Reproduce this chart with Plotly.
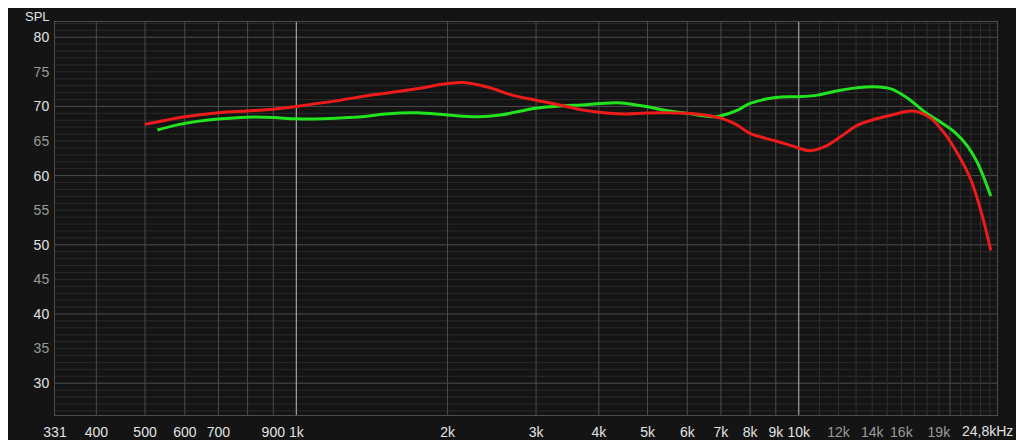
import math
import plotly.graph_objects as go

# ---- data ----
red_freq = [500, 550, 600, 700, 800, 900, 1000, 1200, 1400, 1700, 2000, 2150, 2400, 2700,
            3000, 3400, 3700, 4000, 4500, 5000, 6000, 6700, 7000, 7500, 8000, 9000, 9700,
            10500, 11200, 12100, 13100, 14100, 15300, 16500, 17300, 18300, 19500, 20700,
            22000, 23100, 24100]
red_spl = [67.4, 68.0, 68.5, 69.1, 69.35, 69.6, 70.0, 70.8, 71.6, 72.45, 73.3, 73.45, 72.8, 71.6,
           70.9, 70.1, 69.5, 69.15, 68.9, 69.05, 69.0, 68.6, 68.3, 67.4, 66.1, 65.0, 64.3,
           63.6, 64.1, 65.6, 67.3, 68.1, 68.75, 69.3, 69.2, 68.3, 66.1, 63.2,
           59.4, 54.6, 49.2]

green_freq = [529, 600, 700, 800, 900, 1000, 1170, 1350, 1500, 1740, 2000, 2300, 2550, 2970,
              3400, 3700, 4040, 4430, 5000, 5480, 6000, 6780, 7000, 7560, 8000, 9000, 10000,
              10900, 12100, 14100, 15300, 16500, 17800, 18900, 20400, 21700, 22700, 24100]
green_spl = [66.6, 67.55, 68.17, 68.45, 68.4, 68.2, 68.27, 68.5, 68.9, 69.08, 68.75, 68.5, 68.75, 69.7,
             70.1, 70.2, 70.43, 70.5, 69.94, 69.37, 69.0, 68.5, 68.64, 69.46, 70.43, 71.3, 71.4,
             71.63, 72.35, 72.83, 72.5, 71.15, 69.2, 68.0, 66.33, 64.2, 61.8, 57.05]

x_tick_vals = [331, 400, 500, 600, 700, 900, 1000, 2000, 3000, 4000, 5000, 6000, 7000, 8000,
               9000, 10000, 12000, 14000, 16000, 19000]
x_tick_text = ["331", "400", "500", "600", "700", "900", "1k", "2k", "3k", "4k", "5k", "6k", "7k",
               "8k", "9k", "10k", "12k", "14k", "16k", "19k"]
x_tick_minor_labels = ["12k", "14k", "16k", "19k"]
x_end_label = "24,8kHz"
x_min, x_max = 331, 24800

y_tick_vals = [30, 35, 40, 45, 50, 55, 60, 65, 70, 75, 80]
y_min, y_max = 25.4, 82.2

grid_medium_x = [400, 500, 600, 700, 800, 900, 2000, 3000, 4000, 5000, 6000, 7000, 8000, 9000, 20000]
grid_bright_x = [1000, 10000]
grid_dim_x = [11000, 12000, 13000, 14000, 15000, 16000, 17000, 18000, 19000,
              21000, 22000, 23000, 24000]

# ---- styles ----
BG = "#141414"
FONT = "Liberation Sans, Arial, sans-serif"
LABEL_MAJOR = "#e2e2e2"
LABEL_MINOR = "#9a9a9a"

fig = go.Figure()

fig.add_trace(go.Scatter(x=green_freq, y=green_spl, mode="lines",
                         line=dict(color="#22e41e", width=3, shape="spline", smoothing=1.0),
                         showlegend=False, hoverinfo="skip"))
fig.add_trace(go.Scatter(x=red_freq, y=red_spl, mode="lines",
                         line=dict(color="#ee1b1b", width=3, shape="spline", smoothing=1.0),
                         showlegend=False, hoverinfo="skip"))

shapes = []
# horizontal grid lines every 1 dB
for v in range(26, 83):
    col = "#4e4e4e" if v % 10 == 0 else "#2a2a2a"
    shapes.append(dict(type="line", xref="paper", yref="y", x0=0, x1=1, y0=v, y1=v,
                       line=dict(color=col, width=1), layer="below"))
for f in grid_dim_x:
    shapes.append(dict(type="line", xref="x", yref="paper", x0=f, x1=f, y0=0, y1=1,
                       line=dict(color="#303030", width=1), layer="below"))
for f in grid_medium_x:
    shapes.append(dict(type="line", xref="x", yref="paper", x0=f, x1=f, y0=0, y1=1,
                       line=dict(color="#4c4c4c", width=1), layer="below"))
for f in grid_bright_x:
    shapes.append(dict(type="line", xref="x", yref="paper", x0=f, x1=f, y0=0, y1=1,
                       line=dict(color="#bdbdbd", width=1), layer="below"))

x_text = [f"<span style='color:{LABEL_MINOR}'>{t}</span>" if t in x_tick_minor_labels else t
          for t in x_tick_text]
y_text = [str(v) if v % 10 == 0 else f"<span style='color:{LABEL_MINOR}'>{v}</span>"
          for v in y_tick_vals]

fig.update_layout(
    width=1024, height=440,
    paper_bgcolor=BG, plot_bgcolor=BG,
    # page body has an 8px margin, so the plot area is offset accordingly
    margin=dict(l=47, r=35, t=14, b=33, autoexpand=False),
    font=dict(family=FONT, size=14, color=LABEL_MAJOR),
    shapes=shapes,
    xaxis=dict(type="log", range=[math.log10(x_min), math.log10(x_max)],
               tickvals=x_tick_vals, ticktext=x_text, showgrid=False, zeroline=False,
               showline=True, linecolor="#4c4c4c", mirror=True, ticks="",
               automargin=False,
               tickfont=dict(size=14, color=LABEL_MAJOR), ticklabelstandoff=4),
    yaxis=dict(range=[y_min, y_max], tickvals=y_tick_vals, ticktext=y_text,
               showgrid=False, zeroline=False, showline=True, linecolor="#4c4c4c",
               mirror=True, ticks="", automargin=False,
               tickfont=dict(size=14, color=LABEL_MAJOR), ticklabelstandoff=2),
    annotations=[
        dict(text="SPL", xref="paper", yref="paper", x=0, y=1, xanchor="right",
             yanchor="top", xshift=-4, yshift=14, borderpad=0, showarrow=False,
             font=dict(size=13, color=LABEL_MAJOR)),
        dict(text=x_end_label, xref="x", yref="paper", x=math.log10(x_max), y=0,
             xanchor="right", yanchor="top", xshift=18, yshift=-6, showarrow=False,
             font=dict(size=14, color=LABEL_MAJOR)),
    ],
)

fig.write_html("out.html")
